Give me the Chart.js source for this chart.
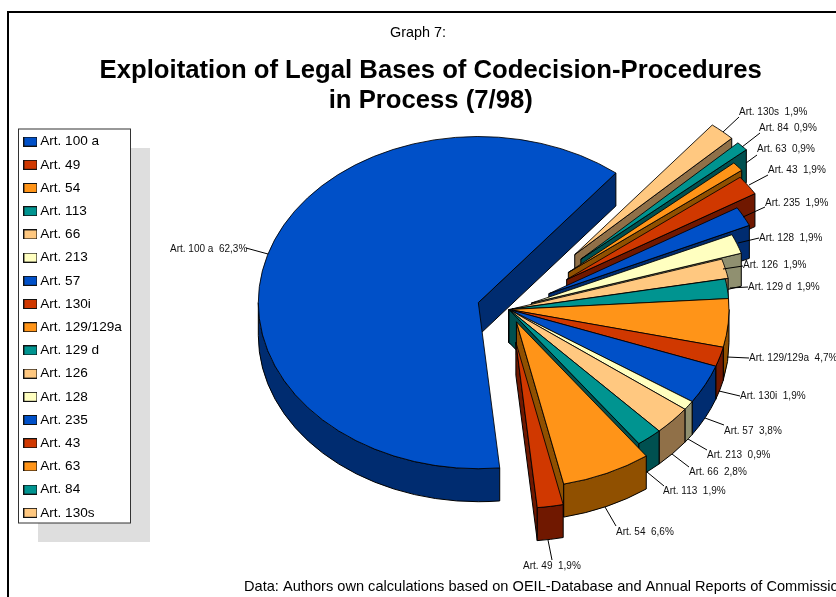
<!DOCTYPE html>
<html><head><meta charset="utf-8">
<style>html,body{margin:0;padding:0;background:#fff;overflow:hidden}#wrap{width:836px;height:597px}</style>
<script src="https://cdn.jsdelivr.net/npm/chart.js@4/dist/chart.umd.js"></script>
</head><body><div id="wrap"><canvas id="c" width="836" height="597"></canvas></div>
<script>
const categories = ['Art. 100 a','Art. 49','Art. 54','Art. 113','Art. 66','Art. 213','Art. 57','Art. 130i','Art. 129/129a','Art. 129 d','Art. 126','Art. 128','Art. 235','Art. 43','Art. 63','Art. 84','Art. 130s'];
const shares = [62.3,1.9,6.6,1.9,2.8,0.9,3.8,1.9,4.7,1.9,1.9,1.9,1.9,1.9,0.9,0.9,1.9];
const shareLabels = ['62,3%','1,9%','6,6%','1,9%','2,8%','0,9%','3,8%','1,9%','4,7%','1,9%','1,9%','1,9%','1,9%','1,9%','0,9%','0,9%','1,9%'];

const topColors = ['#0050c8','#d03800','#ff9418','#009490','#ffc880','#ffffc0','#0050c8','#d03800','#ff9418','#009490','#ffc880','#ffffc0','#0050c8','#d03800','#ff9418','#009490','#ffc880'];
const wallColors = ['#002c70','#701800','#905000','#005050','#907048','#909070','#002c70','#701800','#905000','#005050','#907048','#909070','#002c70','#701800','#905000','#005050','#907048'];
const explodeBy = [32,44,18,0,0,0,0,0,0,0,3,24,45,70,77,98,98];
// [text x, text y, leader start x, start y, leader end x, end y]
const labelLayout = [
 [170,249,268,254,246,248],[523,566,548,540,552,560],[616,532,605,507,616,526],[663,491,647,472,664,486],
 [689,472,672,454,689,467],[707,455,688,439,707,450],[724,431,705,418,724,425],[740,396,719,391,740,396],
 [749,358,727,357,749,358],[748,287,730,288,748,287],[743,265,723,269,743,266],[759,238,738,243,759,238],
 [765,203,743,217,765,207],[768,170,749,185,768,175],[757,149,746,163,757,155],[759,128,742,147,760,133],[739,112,723,132,739,117]
];
const FONT = '"Liberation Sans", Arial, sans-serif';
const PIE = {x:509, y:309.5, r:220, squash:0.755, depth:33};

function swatch(color){
  const s=document.createElement('canvas'); s.width=14; s.height=10;
  const g=s.getContext('2d'); g.fillStyle=color; g.fillRect(0,0,14,10);
  g.strokeStyle='#111'; g.lineWidth=1; g.strokeRect(.5,.5,13,9); return s;
}
const order = categories.map((_,i)=>i).reverse();

const pie3d = {
  id:'pie3d',
  afterLayout(chart){
    const lg=chart.legend; const w=112, h=440;
    lg.left=17.8; lg.right=lg.left+w; lg.top=125.2; lg.bottom=lg.top+h;
    const t=chart.titleBlock; t.top=24.3; t.bottom=t.top+17;
    const sub=chart.boxes.find(b=>b!==t && b.constructor===t.constructor);
    sub.top=55.5; sub.bottom=115; sub.left=25.5; sub.right=836;
  },
  beforeDraw(chart){
    const g=chart.ctx; g.save();
    g.fillStyle='#fff'; g.fillRect(0,0,836,597);
    g.strokeStyle='#000'; g.lineWidth=2; g.strokeRect(8,12,1000,1000);
    g.fillStyle='#dedede'; g.fillRect(38,148,112,394);
    g.fillStyle='#fff'; g.fillRect(18.5,129,112,394);
    g.strokeStyle='#333'; g.lineWidth=1; g.strokeRect(18.5,129,112,394);
    g.restore();
  },
  beforeDatasetsDraw(chart){
    const g=chart.ctx, meta=chart.getDatasetMeta(0), {x:cx0,y:cy0,r:R,squash:s,depth:d}=PIE;
    const items=meta.data.map((arc,i)=>{
      const idx=order[i], a1=arc.startAngle, a2=arc.endAngle, m=(a1+a2)/2, e=explodeBy[idx];
      return {arc,idx,a1,a2,m,cx:cx0+e*Math.cos(m),cy:cy0+e*Math.sin(m)*s};
    }).sort((p,q)=>Math.sin(p.m)-Math.sin(q.m));
    g.save();
    g.lineJoin='round'; g.strokeStyle='#000'; g.lineWidth=1;
    for(const it of items){
      const {arc,idx,a1,a2,cx,cy}=it;
      g.fillStyle=wallColors[idx];
      const cut=a=>{
        const px=cx+R*Math.cos(a), py=cy+R*s*Math.sin(a);
        g.beginPath(); g.moveTo(cx,cy); g.lineTo(px,py); g.lineTo(px,py+d); g.lineTo(cx,cy+d); g.closePath(); g.fill(); g.stroke();
      };
      if(Math.cos(a1)<0) cut(a1);
      if(Math.cos(a2)>0) cut(a2);
      for(const k of [-1,0,1]){
        const lo=Math.max(a1,k*2*Math.PI), hi=Math.min(a2,k*2*Math.PI+Math.PI);
        if(hi>lo){
          g.beginPath(); g.ellipse(cx,cy,R,R*s,0,lo,hi); g.ellipse(cx,cy+d,R,R*s,0,hi,lo,true); g.closePath(); g.fill(); g.stroke();
        }
      }
      const k=R/arc.outerRadius;
      g.save(); g.translate(cx,cy); g.scale(k,k*s); g.translate(-arc.x,-arc.y); arc.draw(g); g.restore();
    }
    // leaders and data labels
    g.strokeStyle='#000'; g.lineWidth=1; g.fillStyle='#111';
    g.font='10px '+FONT; g.textAlign='left'; g.textBaseline='middle';
    categories.forEach((c,i)=>{
      const [tx,ty,x1,y1,x2,y2]=labelLayout[i];
      g.beginPath(); g.moveTo(x1,y1); g.lineTo(x2,y2); g.stroke();
      g.fillText(c+'  '+shareLabels[i],tx,ty);
    });
    g.font='14.6px '+FONT; g.fillStyle='#000';
    g.fillText('Data: Authors own calculations based on OEIL-Database and Annual Reports of Commission',244,587);
    g.restore();
    return false;
  }
};

new Chart(document.getElementById('c'),{
  type:'pie',
  data:{labels:order.map(i=>categories[i]),
    datasets:[{data:order.map(i=>shares[i]),backgroundColor:order.map(i=>topColors[i]),borderColor:'#000',borderWidth:1.1,hoverOffset:0}]},
  options:{
    responsive:false,animation:false,events:[],rotation:38.7,
    layout:{padding:{bottom:20}},
    plugins:{
      tooltip:{enabled:false},
      title:{display:true,text:'Graph 7:',color:'#000',font:{family:FONT,size:14.4,weight:'normal',lineHeight:1.2},padding:0},
      subtitle:{display:true,text:['Exploitation of Legal Bases of Codecision-Procedures','in Process (7/98)'],color:'#000',font:{family:FONT,size:25.7,weight:'bold',lineHeight:30/25.7},padding:0},
      legend:{display:true,position:'left',align:'start',
        labels:{color:'#000',font:{family:FONT,size:13.6},padding:9.6,usePointStyle:true,pointStyleWidth:6,
          generateLabels:()=>categories.map((c,i)=>({text:c,fillStyle:topColors[i],strokeStyle:'#000',lineWidth:1,pointStyle:swatch(topColors[i]),hidden:false,index:order.length-1-i,fontColor:'#000'}))}}
    }
  },
  plugins:[pie3d]
});
</script></body></html>
